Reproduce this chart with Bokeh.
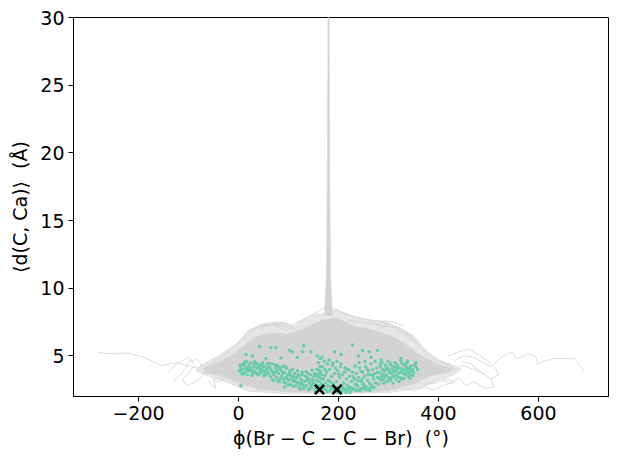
from bokeh.plotting import figure
from bokeh.models import Range1d, FixedTicker
from bokeh.embed import file_html
from bokeh.resources import INLINE

# ---- axis ticks ----
x_ticks = [-200, 0, 200, 400, 600]
y_ticks = [5, 10, 15, 20, 25, 30]

# ---- grey trajectory mass (outer, fainter envelope) ----
outer_x = [-80, -40, 0, 20, 45, 85, 110, 130, 165, 195, 230, 285, 320, 350, 370, 395, 430, 445,
           430, 400, 360, 300, 200, 100, 20, -20, -60, -85]
outer_y = [4.2, 5.0, 6.0, 6.9, 7.3, 7.4, 7.1, 7.6, 8.1, 8.4, 7.9, 7.5, 7.1, 6.5, 5.6, 4.8, 4.3, 4.0,
           3.6, 3.2, 2.6, 2.3, 2.2, 2.2, 2.4, 3.0, 3.5, 3.9]

# ---- grey trajectory mass (dense core) ----
core_x = [-72, -30, 0, 30, 60, 100, 130, 165, 195, 230, 270, 310, 340, 370, 400, 430,
          420, 380, 350, 300, 200, 100, 40, 0, -30, -65]
core_y = [4.05, 4.7, 5.4, 6.3, 6.7, 6.6, 7.0, 7.6, 7.8, 7.2, 6.9, 6.4, 5.7, 4.9, 4.35, 4.05,
          3.8, 3.5, 2.9, 2.45, 2.25, 2.35, 2.55, 3.0, 3.5, 3.8]

# ---- the narrow spike ----
spike_x = [172, 176, 178, 178.8, 181.2, 182, 184, 188]
spike_y = [8.0, 11.0, 20.0, 30.5, 30.5, 20.0, 11.0, 8.0]

# ---- stray trajectories ----
tails_x = [
    [-281, -265, -250, -235, -221, -205, -190, -172, -155, -138, -121, -105, -90, -78],
    [-130, -118, -108, -96, -88, -100, -112, -104, -90, -76, -64, -55],
    [-140, -128, -115, -100, -92, -84, -76, -66],
    [-60, -52, -45, -50, -40, -30, -20],
    [430, 450, 471, 490, 505, 525, 540, 548, 555, 565, 578, 590, 595, 598, 610, 631, 650, 671, 685, 691],
    [410, 425, 440, 455, 470, 480, 495, 511, 505, 490, 470, 450, 430],
    [420, 440, 460, 480, 500, 515, 520, 505, 485, 465, 445],
    [330, 350, 370, 390, 410, 430, 420, 395, 370, 345],
]
tails_y = [
    [5.26, 5.2, 5.15, 5.2, 5.2, 5.05, 4.9, 4.6, 4.3, 4.4, 4.5, 4.3, 4.15, 4.1],
    [3.1, 3.5, 4.0, 4.7, 4.3, 3.7, 3.3, 2.8, 3.0, 3.4, 3.9, 3.7],
    [3.8, 4.3, 4.6, 4.9, 4.6, 4.8, 4.4, 4.2],
    [3.2, 2.8, 2.6, 3.3, 3.0, 3.4, 3.6],
    [4.6, 5.0, 4.9, 4.5, 4.2, 4.9, 5.2, 5.3, 4.8, 4.9, 5.16, 5.0, 4.9, 4.4, 4.6, 4.8, 4.8, 4.8, 4.2, 3.9],
    [3.2, 2.9, 3.4, 2.8, 3.1, 2.9, 2.6, 2.7, 3.3, 3.7, 4.0, 4.3, 4.0],
    [5.0, 5.3, 5.5, 5.1, 4.6, 4.0, 3.6, 3.3, 3.8, 4.4, 4.6],
    [2.6, 2.4, 2.7, 2.5, 2.8, 3.1, 3.3, 3.0, 2.9, 3.1],
]

# ---- trajectories in the upper fringe of the mass ----
fringe_x = [
    [-60, -30, 0, 20, 40, 70, 100, 115],
    [10, 30, 50, 80, 105, 125, 140, 160],
    [120, 140, 155, 165, 175],
    [190, 210, 240, 270, 300, 320, 340, 355],
    [220, 250, 280, 310, 335, 355, 375, 400, 430],
    [40, 60, 90, 110, 95, 80, 70, 90],
    [260, 280, 300, 290, 275, 290, 310, 330],
]
fringe_y = [
    [4.3, 5.0, 6.0, 6.8, 7.2, 7.3, 7.1, 6.9],
    [6.2, 6.9, 7.4, 7.5, 7.2, 7.6, 7.9, 8.1],
    [7.4, 7.9, 8.2, 8.4, 8.6],
    [8.5, 8.2, 7.8, 7.6, 7.4, 7.1, 6.6, 6.0],
    [7.6, 7.5, 7.3, 7.1, 6.6, 6.0, 5.2, 4.6, 4.2],
    [7.0, 7.3, 7.5, 7.2, 6.9, 7.1, 7.3, 7.4],
    [7.3, 7.6, 7.4, 7.1, 7.3, 7.6, 7.5, 7.2],
]

# ---- green sampled points ----
pts_a = [(2,3.9),(4,4.2),(6,3.7),(8,4.0),(10,4.4),(12,3.8),(14,4.1),(16,4.6),(18,3.6),(20,4.3),
         (22,3.9),(24,4.5),(26,4.0),(28,3.7),(30,4.2),(32,4.6),(34,3.8),(36,4.1),(38,4.4),(40,3.6),
         (42,4.0),(44,4.3),(46,3.8),(48,4.5),(50,3.9),(52,4.2),(54,3.6),(56,4.0),(58,4.4),(60,3.7),
         (5,4.0),(11,4.3),(17,3.9),(23,4.1),(29,3.9),(35,4.4),(41,4.2),(47,4.0),(53,3.8),(59,4.1)]
pts_b = [(62,4.2),(64,3.5),(66,3.9),(68,4.4),(70,3.2),(72,3.8),(74,4.1),(76,3.4),(78,4.3),(80,3.7),
         (82,3.1),(84,4.0),(86,3.5),(88,4.2),(90,3.3),(92,3.8),(94,3.0),(96,4.1),(98,3.6),(100,3.2),
         (102,3.9),(104,2.9),(106,3.5),(108,4.0),(110,3.1),(112,3.7),(114,2.8),(116,3.4),(118,3.9),(120,3.0),
         (65,4.0),(71,3.6),(77,3.9),(83,3.3),(89,3.7),(95,3.4),(101,3.6),(107,3.3),(113,3.2),(119,3.6)]
pts_c = [(122,2.7),(124,3.3),(126,2.9),(128,3.6),(130,2.6),(132,3.1),(134,3.5),(136,2.8),(138,3.2),
         (140,2.5),(142,3.0),(144,3.6),(146,2.7),(148,3.3),(150,2.9),(152,3.7),(154,2.6),(156,3.2),
         (158,3.5),(160,2.8),(162,3.1),(164,3.8),(166,2.9),(125,3.0),(131,2.8),(137,3.4),(143,2.6),
         (149,3.1),(155,2.9),(161,3.4),(127,3.8),(139,3.7),(151,3.5),(157,4.0),(163,4.2)]
pts_d = [(160,4.5),(162,3.9),(164,4.8),(166,3.6),(168,4.2),(170,3.3),(172,4.6),(174,3.0),(176,3.8),
         (178,4.4),(180,3.2),(182,4.0),(184,2.7),(186,3.5),(188,4.3),(190,2.9),(192,3.7),(194,4.1),
         (196,3.1),(198,3.9),(200,2.6),(202,3.4),(204,4.2),(206,2.8),(208,3.6),(210,3.0),(212,3.8),
         (214,2.5),(216,3.3),(218,4.0),(220,2.7),(222,3.5),(224,2.4),(226,3.1),(228,3.8),(230,2.6),
         (232,3.3),(234,2.9),(171,2.7),(175,2.5),(179,2.8),(183,2.4),(187,2.6),(191,2.4),(195,2.7),
         (199,2.3),(203,2.5),(207,2.4),(211,2.6),(215,2.3),(219,2.5),(223,2.3),(227,2.5),(167,4.9),
         (173,4.0),(181,4.7),(189,4.5),(197,4.6),(205,4.4),(213,4.1)]
pts_e = [(236,3.7),(238,2.8),(240,3.4),(242,4.1),(244,2.6),(246,3.1),(248,3.8),(250,2.9),(252,3.5),
         (254,4.2),(256,2.7),(258,3.2),(260,3.9),(262,3.0),(264,3.6),(266,2.8),(268,4.0),(270,3.3),
         (272,3.7),(274,3.0),(276,4.1),(278,3.4),(280,2.9),(237,2.5),(243,2.4),(249,2.6),(255,2.5),
         (261,2.6),(267,2.7),(241,4.5),(253,4.6),(265,4.4),(273,4.6),(247,3.3),(259,3.6)]
pts_f = [(282,3.8),(284,4.2),(286,3.5),(288,4.0),(290,3.3),(292,3.9),(294,4.3),(296,3.6),(298,4.1),
         (300,3.4),(302,3.8),(304,4.4),(306,3.7),(308,4.0),(310,3.5),(312,4.2),(314,3.9),(316,3.6),
         (318,4.3),(320,3.8),(322,4.1),(324,3.4),(326,3.9),(328,4.4),(330,3.7),(332,4.0),(334,3.6),
         (336,4.2),(338,3.8),(340,3.5),(342,4.1),(344,3.9),(346,3.6),(348,4.0),(350,3.8),(285,3.2),
         (291,3.0),(297,3.1),(303,3.2),(309,3.0),(315,3.3),(321,3.1),(327,3.3),(287,4.5),(299,4.6),
         (313,4.5),(325,4.6),(337,4.5),(355,4.2),(358,4.0)]
pts_g = [(3,4.35),(9,3.65),(13,4.55),(19,4.05),(27,3.55),(31,4.45),(37,3.65),(43,3.75),(49,4.25),
         (51,3.55),(57,3.85),(61,4.45),(67,3.25),(69,3.75),(73,4.35),(79,3.15),(81,4.15),(87,3.85),
         (91,3.05),(93,4.25),(97,3.35),(99,2.85),(103,3.75),(109,2.75),(111,3.45),(117,3.05),
         (121,3.55),(123,2.55),(129,3.15),(133,2.75),(135,3.85),(141,3.25),(145,2.85),(147,3.95),
         (153,2.45),(159,3.65),(165,3.35),(169,2.55),(173,3.55),(177,2.35),(185,3.05),(193,2.55),
         (201,3.65),(209,2.65),(217,2.85),(221,3.95),(225,2.65),(229,3.45),(233,4.25),(235,2.45),
         (239,3.15),(245,3.85),(251,2.75),(257,4.05),(263,2.45),(269,3.55),(271,2.65),(277,3.75),
         (281,3.35),(283,4.35),(289,3.65),(293,3.45),(295,4.05),(301,3.95),(305,3.35),(307,4.25),
         (311,3.85),(317,4.05),(319,3.45),(323,3.75),(329,4.05),(331,3.35),(333,4.35),(339,4.05),
         (341,3.75),(345,4.25),(349,3.55),(352,4.35),(343,3.35),(335,3.9)]
pts_sparse = [(28,5.0),(42,5.7),(55,4.8),(65,5.6),(75,5.6),(85,4.85),(102,5.4),(108,5.3),(128,5.3),
              (130,5.75),(145,5.3),(158,5.0),(192,5.3),(205,5.1),(228,5.8),(248,5.4),(261,5.3),
              (265,4.9),(278,5.4),(285,4.7),(325,4.8),(338,4.6),(355,4.5),(5,2.8),(92,2.7),(15,5.1),
              (118,4.9),(240,5.0)]

# ---- marked minima ----
mark_x = [162, 197]
mark_y = [2.52, 2.52]

green = pts_a + pts_b + pts_c + pts_d + pts_e + pts_f + pts_g + pts_sparse
green_x = [q[0] for q in green]
green_y = [q[1] for q in green]

FONT = "DejaVu Sans"
NB = "\u00a0"

p = figure(width=615, height=455, output_backend="svg", toolbar_location=None,
           x_range=Range1d(-330, 740), y_range=Range1d(2, 30),
           min_border_left=73, min_border_right=7, min_border_top=17, min_border_bottom=59)

p.patch(outer_x, outer_y, fill_color="#e6e6e6", line_color="#e0e0e0", line_width=1)
p.multi_line(tails_x, tails_y, line_color="#dcdcdc", line_width=1)
p.patch(core_x, core_y, fill_color="#d3d3d3", line_color="#d6d6d6", line_width=1)
p.multi_line(fringe_x, fringe_y, line_color="#d6d6d6", line_width=1)
p.patch(spike_x, spike_y, fill_color="#d3d3d3", line_color="#d3d3d3", line_width=0.5)

p.scatter(green_x, green_y, size=3.5, marker="circle", fill_color="#66cdaa", line_color=None)
p.scatter(mark_x, mark_y, size=13, marker="x", line_color="black", line_width=2.5)

p.xgrid.visible = False
p.ygrid.visible = False
p.outline_line_color = "black"
p.outline_line_width = 1
p.background_fill_color = "white"
p.border_fill_color = "white"

for ax in (p.xaxis[0], p.yaxis[0]):
    ax.major_tick_in = 0
    ax.major_tick_out = 5
    ax.minor_tick_line_color = None
    ax.axis_line_color = "black"
    ax.major_tick_line_color = "black"
    ax.major_label_text_font = FONT
    ax.major_label_text_font_size = "19px"
    ax.major_label_text_color = "black"
    ax.axis_label_text_font = FONT
    ax.axis_label_text_font_size = "19px"
    ax.axis_label_text_font_style = "normal"
    ax.axis_label_text_color = "black"
    ax.major_label_standoff = 4

p.xaxis[0].ticker = FixedTicker(ticks=x_ticks)
p.yaxis[0].ticker = FixedTicker(ticks=y_ticks)
p.xaxis[0].major_label_overrides = {t: (("\u2212" + str(-t)) if t < 0 else str(t)) for t in x_ticks}
p.xaxis[0].axis_label = "\u03d5(Br \u2212 C \u2212 C \u2212 Br)" + NB + NB + "(\u00b0)"
p.yaxis[0].axis_label = "\u27e8d(C, Ca)\u27e9" + NB + NB + "(\u00c5)"
p.xaxis[0].axis_label_standoff = 4
p.yaxis[0].axis_label_standoff = 6

open("out.html", "w").write(file_html(p, INLINE))
